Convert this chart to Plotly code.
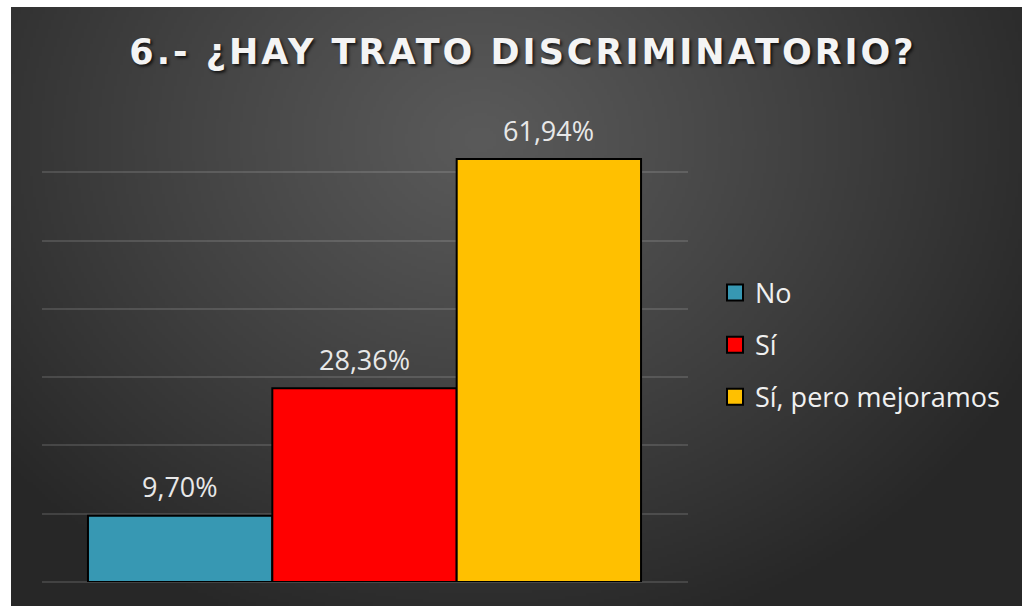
import base64, struct, zlib
import numpy as np
import plotly.graph_objects as go

categories = ["No", "Sí", "Sí, pero mejoramos"]
values = [9.70, 28.36, 61.94]
colors = ["#3798b3", "#ff0000", "#ffc000"]
title_text = "6.- ¿HAY TRATO DISCRIMINATORIO?"

W, H = 1022, 606
L, R, T, B = 42, 334, 104, 24
PW, PH = W - L - R, H - T - B


def png_data_uri(arr):
    h, w, _ = arr.shape
    raw = b"".join(b"\x00" + arr[i].astype(np.uint8).tobytes() for i in range(h))

    def chunk(tag, data):
        c = struct.pack(">I", len(data)) + tag + data
        return c + struct.pack(">I", zlib.crc32(tag + data) & 0xffffffff)

    png = b"\x89PNG\r\n\x1a\n" + chunk(b"IHDR", struct.pack(">IIBBBBB", w, h, 8, 2, 0, 0, 0))
    png += chunk(b"IDAT", zlib.compress(raw, 9)) + chunk(b"IEND", b"")
    return "data:image/png;base64," + base64.b64encode(png).decode()


# radial dark-gray gradient background (region of the slide)
gx0, gy0, gw, gh = 11, 7, W - 11, H - 7
sw, sh = 337, 200
yy, xx = np.mgrid[0:sh, 0:sw]
px = gx0 + (xx + 0.5) * gw / sw
py = gy0 + (yy + 0.5) * gh / sh
d = np.sqrt(((px - 480) / 620) ** 2 + ((py - 140) / 520) ** 2)
d = np.clip(d, 0, 1)
v = 0x5a - (0x5a - 0x27) * (d ** 1.1)
img = np.stack([v, v, v], axis=-1)

fig = go.Figure()
for i, (cat, val, col) in enumerate(zip(categories, values, colors)):
    fig.add_trace(go.Bar(
        name=cat, x=[i], y=[val], width=1, showlegend=False,
        marker=dict(color=col, line=dict(color="#000000", width=2)),
        hoverinfo="name+y",
    ))
    fig.add_annotation(
        x=i, y=val, xref="x", yref="y", yanchor="middle", yshift=29,
        text=f"{val:.2f}".replace(".", ",") + "%", showarrow=False,
        font=dict(family="Open Sans", size=27, color="#e8e8e8"),
    )
# legend entries (square swatches)
for i, (cat, col) in enumerate(zip(categories, colors)):
    fig.add_trace(go.Scatter(
        name=cat, x=[None], y=[None], mode="markers", legendgroup=cat,
        marker=dict(symbol="square", size=16, color=col, line=dict(color="#000000", width=2)),
    ))

bar_px = 184.5
fig.update_layout(
    width=W, height=H,
    margin=dict(l=L, r=R, t=T, b=B),
    paper_bgcolor="#ffffff", plot_bgcolor="rgba(0,0,0,0)",
    barmode="overlay",
    title=dict(text="<span style='letter-spacing:3px'>" + title_text + "</span>",
               x=523 / W, xanchor="center", y=1 - 52 / H, yanchor="middle",
               font=dict(family="DejaVu Sans", size=35, color="#f4f4f4", weight="bold",
                         shadow="2px 2px 3px rgba(0,0,0,0.7)")),
    showlegend=True,
    legend=dict(x=(715 - L) / PW, xanchor="left", y=1 - (345 - T) / PH, yanchor="middle",
                font=dict(family="Open Sans", size=27, color="#f0f0f0"),
                bgcolor="rgba(0,0,0,0)", traceorder="grouped", tracegroupgap=14,
                itemsizing="trace", itemwidth=30),
    xaxis=dict(range=[-0.5 - 46 / bar_px, 2.5 + 47 / bar_px], showticklabels=False,
               showgrid=False, zeroline=False, showline=False),
    yaxis=dict(range=[0, 70], dtick=10, showticklabels=False, showgrid=True,
               gridcolor="rgba(255,255,255,0.13)", gridwidth=2,
               zeroline=True, zerolinecolor="rgba(255,255,255,0.13)", zerolinewidth=2),
    images=[dict(source=png_data_uri(img), xref="paper", yref="paper",
                 x=(gx0 - L) / PW, y=(H - B - gy0) / PH, sizex=gw / PW, sizey=gh / PH,
                 xanchor="left", yanchor="top", sizing="stretch", layer="below")],
)

fig.write_html("out.html", config={"displayModeBar": False},
               post_script="document.body.style.margin='0px';")
